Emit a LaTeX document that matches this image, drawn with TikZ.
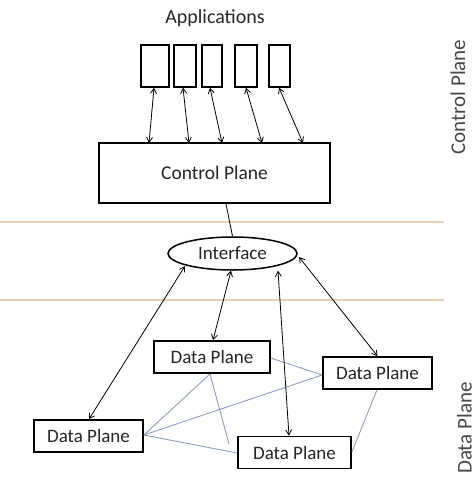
\documentclass[tikz,border=0pt]{standalone}
\usepackage{fontspec}
\setmainfont{Carlito}
\usetikzlibrary{arrows.meta,shapes.geometric}
\definecolor{txt}{HTML}{262626}
\definecolor{sep}{HTML}{EFCFB8}
\definecolor{link}{HTML}{8C9FBF}
\tikzset{
  plane/.style={draw=black,line width=1.8pt,fill=white,inner sep=0pt},
  appbox/.style={draw=black,line width=1.5pt,inner sep=0pt,minimum width=#1,minimum height=42pt},
  dpbox/.style={plane,minimum width=#1,minimum height=32pt,font=\fontsize{19}{22}\selectfont,text=txt},
  dbl/.style={<->,line width=0.8pt,>={Straight Barb[length=5pt,width=6pt]}},
  mesh/.style={draw=link,line width=0.9pt},
  sidelabel/.style={rotate=90,font=\fontsize{21}{25}\selectfont,text=txt!85,inner sep=0pt}
}
\begin{document}
\begin{tikzpicture}[x=1pt,y=-1pt]
\useasboundingbox (0,0) rectangle (475,479);

% separators between the planes
\draw[sep,line width=1.4pt] (0,222) -- (444,222);
\draw[sep,line width=1.4pt] (0,300) -- (444,300);

% applications
\node[font=\fontsize{20}{24}\selectfont,text=txt] (apps) at (215,18) {Applications};
\node[appbox=28pt] (a1) at (155,66) {};
\node[appbox=22pt] (a2) at (185,66) {};
\node[appbox=20pt] (a3) at (212,66) {};
\node[appbox=22pt] (a4) at (246,66) {};
\node[appbox=21pt] (a5) at (279.5,66) {};

% control plane
\node[plane,minimum width=231pt,minimum height=60pt,font=\fontsize{19.5}{23}\selectfont,text=txt] (cp) at (214.5,173) {Control Plane};
\coordinate (c1) at (149,143);
\coordinate (c2) at (189,143);
\coordinate (c3) at (222,143);
\coordinate (c4) at (262,143);
\coordinate (c5) at (303,143);
\draw[dbl] (a1.south -| 154,0) -- (c1);
\draw[dbl] (a2.south -| 183,0) -- (c2);
\draw[dbl] (a3.south -| 210,0) -- (c3);
\draw[dbl] (a4.south -| 246,0) -- (c4);
\draw[dbl] (a5.south -| 279,0) -- (c5);

% interface
\node[ellipse,draw=black,line width=1.5pt,fill=white,minimum width=129pt,minimum height=33pt,inner sep=0pt,font=\fontsize{19}{22}\selectfont,text=txt] (if) at (232.5,253.5) {Interface};
\draw[line width=0.8pt] (cp.south -| 226,0) -- (if.north);

% data planes
\node[dpbox=116pt] (d1) at (212,357) {Data Plane};
\node[dpbox=109pt] (d2) at (377.5,373) {Data Plane};
\node[dpbox=109pt] (d3) at (88.5,436) {Data Plane};
\node[dpbox=113pt] (d4) at (294.5,452.5) {Data Plane};

% mesh links between data planes
\draw[mesh] (d1.east |- 0,358) -- (d2.west |- 0,375);
\draw[mesh] (d1.south -| 210,0) -- (d3.east |- 0,435);
\draw[mesh] (d1.south -| 210,0) -- (229,444);
\draw[mesh] (d2.west |- 0,375) -- (d3.east |- 0,435);
\draw[mesh] (d3.east |- 0,435) -- (d4.west |- 0,453);
\draw[mesh] (d2.south -| 377,0) -- (d4.east |- 0,452);

% interface to data planes
\draw[dbl] (185,266) -- (d3.north -| 89,0);
\draw[dbl] (if.south -| 231,0) -- (d1.north -| 213,0);
\draw[dbl] (if.south -| 278,0) -- (d4.north -| 289,0);
\draw[dbl] (299,257) -- (d2.north);

% side labels
\node[sidelabel] (lcp) at (458,97) {Control Plane};
\node[sidelabel,anchor=south west] (ldp) at (472,474) {Data Plane};
\end{tikzpicture}
\end{document}
